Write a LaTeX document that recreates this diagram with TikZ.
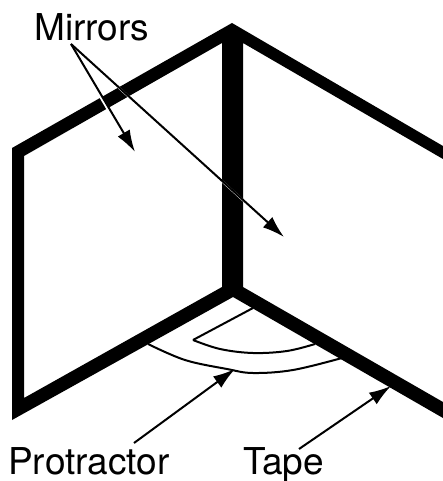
\documentclass[tikz,border=0pt]{standalone}
\usepackage{fontspec}
\setmainfont{TeX Gyre Heros}
\usetikzlibrary{arrows.meta}
\tikzset{
  lab/.style={inner sep=0pt,font=\fontsize{37}{40}\selectfont,anchor=base west,text=black},
  frame/.style={fill=black,draw=none},
  thinline/.style={line width=2pt,line join=miter},
  pointer/.style={line width=2pt,-{Latex[length=22pt,width=14pt]}},
  halo/.style={white,line width=2.2pt}
}
\begin{document}
\begin{tikzpicture}[x=1pt,y=-1pt]
\useasboundingbox (0,0) rectangle (443,481);
% frame bands
\path[frame,even odd rule] (12,148) -- (232,23) -- (443,146) -- (443,159) -- (243,43) -- (243,287) -- (443,402) -- (443,418) -- (233,297) -- (12,420) -- cycle
 (24,156) -- (222,43) -- (222,287) -- (24,398) -- cycle;
% protractor
\draw[thinline] plot[smooth,tension=0.6] coordinates {(148,344) (185,360) (227,369) (253,373) (293,370) (342,358)};
\draw[thinline] (253,308) -- (193,340) plot[smooth,tension=0.6] coordinates {(193,340) (220,349) (253,353) (287,351) (315,344)};
% labels
\node[lab] (mirrors) at (34,41) {Mirrors};
\node[lab] (protractor) at (8,474) {Protractor};
\node[lab] (tape) at (243,474) {Tape};
\coordinate (mfrom) at (71,44);
\coordinate (mA) at (135,152);
\coordinate (mB) at (284,237);
\coordinate (pfrom) at (134,443);
\coordinate (pto) at (235,369);
\coordinate (tfrom) at (299,449);
\coordinate (tto) at (391,386);
% white halos across the black bands
\draw[halo] ([xshift=-2.6pt,yshift=1pt]mfrom) -- ([xshift=-2.6pt,yshift=1pt]mA);
\draw[halo] ([xshift=1.8pt,yshift=-2pt]mfrom) -- ([xshift=1.8pt,yshift=-2pt]mB);
% arrows
\draw[pointer] (mfrom) -- (mA);
\draw[pointer] (mfrom) -- (mB);
\draw[pointer] (pfrom) -- (pto);
\draw[pointer] (tfrom) -- (tto);
\end{tikzpicture}
\end{document}
